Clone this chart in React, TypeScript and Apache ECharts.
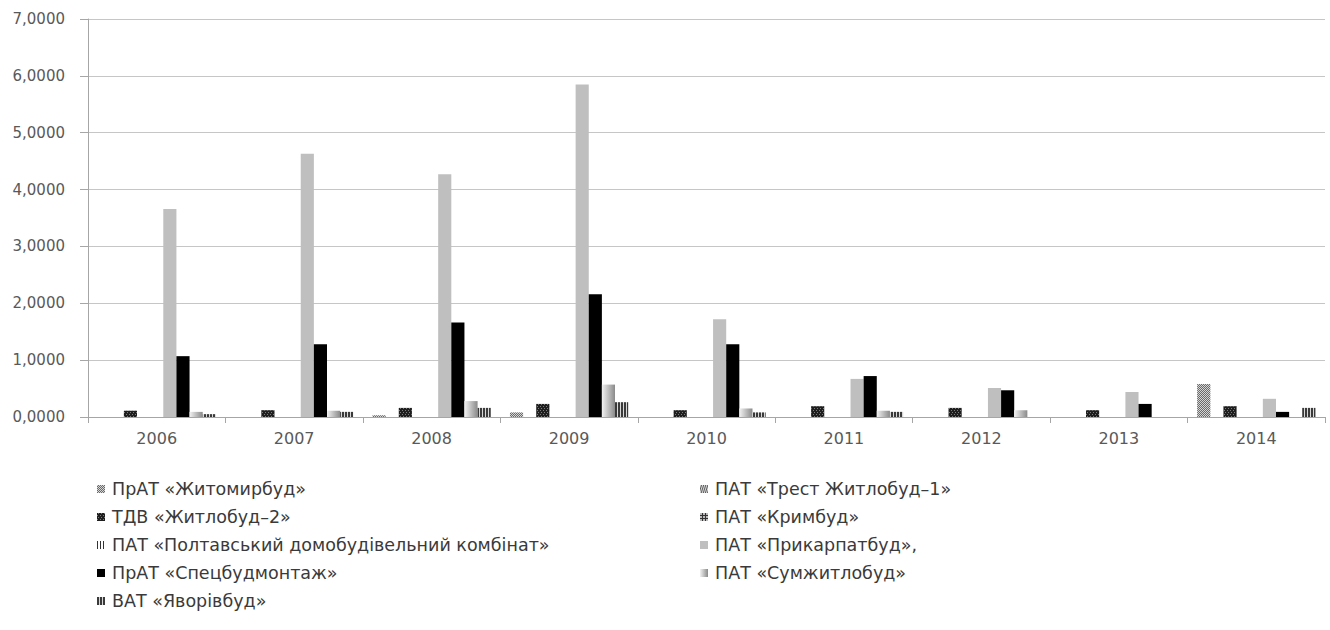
import React, { useEffect, useRef } from "react";
import * as echarts from "echarts";

// Years on the category axis
const years = ["2006", "2007", "2008", "2009", "2010", "2011", "2012", "2013", "2014"];

// Company names (legend order)
const names = [
  "ПрАТ «Житомирбуд»",
  "ПАТ «Трест Житлобуд–1»",
  "ТДВ «Житлобуд–2»",
  "ПАТ «Кримбуд»",
  "ПАТ «Полтавський домобудівельний комбінат»",
  "ПАТ «Прикарпатбуд»,",
  "ПрАТ «Спецбудмонтаж»",
  "ПАТ «Сумжитлобуд»",
  "ВАТ «Яворівбуд»",
];

// Values per company, 2006–2014
const zhytomyrbud = [0, 0, 0.03, 0.08, 0, 0, 0, 0, 0.58];
const trestZhytlobud1 = [0, 0, 0, 0, 0, 0, 0, 0, 0];
const zhytlobud2 = [0.11, 0.12, 0.16, 0.23, 0.12, 0.19, 0.16, 0.12, 0.19];
const krymbud = [0, 0, 0, 0, 0, 0, 0, 0, 0];
const poltavaDbk = [0, 0, 0, 0, 0, 0, 0, 0, 0];
const prykarpatbud = [3.66, 4.63, 4.27, 5.85, 1.72, 0.67, 0.51, 0.44, 0.32];
const spetsbudmontazh = [1.07, 1.28, 1.66, 2.16, 1.28, 0.72, 0.47, 0.23, 0.09];
const sumzhytlobud = [0.09, 0.11, 0.28, 0.57, 0.15, 0.11, 0.12, 0, 0];
const yavorivbud = [0.05, 0.09, 0.16, 0.26, 0.08, 0.09, 0, 0, 0.16];

// Y axis range and step
const yMin = 0;
const yMax = 7;
const yStep = 1;

const seriesValues = [
  zhytomyrbud,
  trestZhytlobud1,
  zhytlobud2,
  krymbud,
  poltavaDbk,
  prykarpatbud,
  spetsbudmontazh,
  sumzhytlobud,
  yavorivbud,
];

// Fill styles for each company's bars
const styles: any[] = [
  {
    color: "#d4d4d4",
    decal: { symbol: "rect", symbolSize: 1, dashArrayX: [[1, 1], [0, 1, 1, 0]], dashArrayY: [1, 0], color: "#6a6a6a" },
  },
  {
    color: "#5a5a5a",
    decal: { symbol: "rect", symbolSize: 1, dashArrayX: [1, 1], dashArrayY: [4, 0], color: "#dddddd", rotation: 0.3 },
  },
  {
    color: "#1e1e1e",
    decal: { symbol: "rect", symbolSize: 1, dashArrayX: [[1, 2], [0, 1, 1, 1]], dashArrayY: [1, 1], color: "#7a7a7a" },
  },
  {
    color: "#333333",
    decal: { symbol: "rect", symbolSize: 1, dashArrayX: [2, 1], dashArrayY: [2, 1], color: "#bbbbbb" },
  },
  {
    color: "#ffffff",
    decal: { symbol: "rect", symbolSize: 1, dashArrayX: [1, 2], dashArrayY: [4, 0], color: "#333333" },
  },
  { color: "#bfbfbf" },
  { color: "#000000" },
  {
    color: new echarts.graphic.LinearGradient(0, 0, 1, 0, [
      { offset: 0, color: "#f2f2f2" },
      { offset: 1, color: "#8a8a8a" },
    ]),
  },
  {
    color: "#d8d8d8",
    decal: { symbol: "rect", symbolSize: 1, dashArrayX: [2, 1], dashArrayY: [4, 0], color: "#3a3a3a" },
  },
];

const legendLeft = [names[0], names[2], names[4], names[6], names[8]];
const legendRight = [names[1], names[3], names[5], names[7]];

export default function App() {
  const ref = useRef<HTMLDivElement>(null);

  useEffect(() => {
    if (!ref.current) return;
    const chart = echarts.init(ref.current, null, { renderer: "svg" });

    const legendText = {
      fontFamily: "DejaVu Sans",
      fontSize: 17.5,
      color: "#3a3a3a",
      padding: [0, 0, 0, 2],
    };

    const legendBase = {
      orient: "vertical",
      top: 475,
      icon: "rect",
      itemWidth: 8,
      itemHeight: 8,
      itemGap: 10,
      textStyle: legendText,
      selectedMode: false,
    };

    chart.setOption({
      animation: false,
      backgroundColor: "#ffffff",
      textStyle: { fontFamily: "DejaVu Sans" },
      grid: { left: 88, right: 5, top: 19, bottom: 213, containLabel: false },
      legend: [
        { ...legendBase, data: legendLeft, left: 92 },
        { ...legendBase, data: legendRight, left: 695 },
      ],
      xAxis: {
        type: "category",
        data: years,
        axisLine: { lineStyle: { color: "#a6a6a6", width: 1 } },
        axisTick: { show: true, length: 6, interval: 0, lineStyle: { color: "#a6a6a6" } },
        axisLabel: { color: "#595959", fontSize: 16, margin: 13, fontFamily: "DejaVu Sans" },
      },
      yAxis: {
        type: "value",
        min: yMin,
        max: yMax,
        interval: yStep,
        axisLine: { show: true, lineStyle: { color: "#a6a6a6", width: 1 } },
        axisTick: { show: true, length: 8, lineStyle: { color: "#a6a6a6" } },
        splitLine: { lineStyle: { color: "#c6c6c6", width: 1 } },
        axisLabel: {
          color: "#595959",
          fontSize: 15,
          margin: 23,
          fontFamily: "DejaVu Sans",
          formatter: (v: number) => v.toFixed(4).replace(".", ","),
        },
      },
      series: names.map((name, i) => ({
        name,
        type: "bar",
        data: seriesValues[i],
        barGap: "0%",
        barCategoryGap: "14%",
        itemStyle: styles[i],
      })),
    });

    return () => chart.dispose();
  }, []);

  return (
    <div
      ref={ref}
      style={{ position: "fixed", left: 0, top: 0, width: 1330, height: 630, background: "#fff" }}
    />
  );
}
